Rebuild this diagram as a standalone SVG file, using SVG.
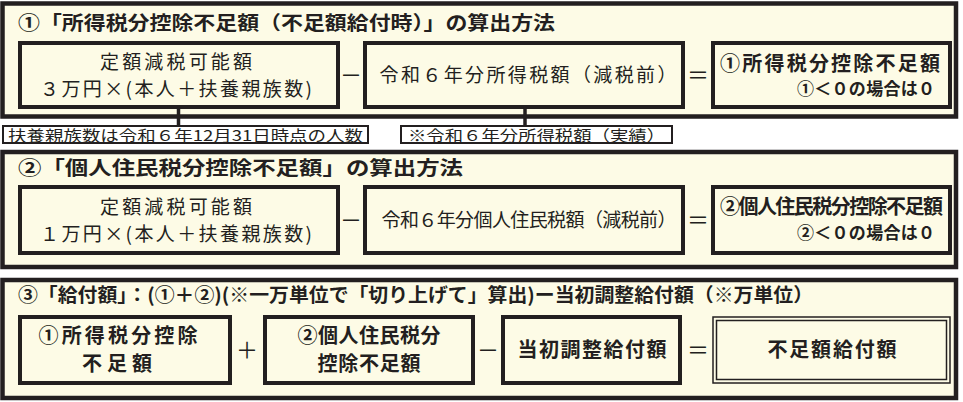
<svg xmlns="http://www.w3.org/2000/svg" width="963" height="402" viewBox="0 0 963 402">
<style>
.panel{fill:#fdfbe6;stroke:#231f20;stroke-width:4.5}
.box{fill:#fdfbe6;stroke:#231f20;stroke-width:4}
.note{fill:#ffffff;stroke:#231f20;stroke-width:2}
.thin{fill:none;stroke:#231f20;stroke-width:1.5}
.conn{stroke:#231f20;stroke-width:3.5;fill:none}
text{font-family:"Noto Sans CJK JP","Noto Sans",sans-serif;fill:#231f20}
.t{font-size:19px;font-weight:bold}
.b{font-size:19px;font-weight:normal}
.bb{font-size:20px;font-weight:bold}
.sm{font-size:17px;font-weight:bold}
.n{font-size:15px;font-weight:normal}
.op{font-size:22px;font-weight:normal}
.c{text-anchor:middle}
.e{text-anchor:end}
</style>
<rect width="963" height="402" fill="#ffffff"/>

<g id="panel1">
<rect class="panel" x="2.5" y="3.5" width="953.5" height="113"/>
<text class="t" x="18" y="30" textLength="537" lengthAdjust="spacingAndGlyphs">①「所得税分控除不足額（不足額給付時）」の算出方法</text>
</g>
<g id="p1-a">
<rect class="box" x="20" y="43" width="318" height="64"/>
<text class="b c" x="176" y="69" textLength="152" lengthAdjust="spacing">定額減税可能額</text>
<text class="b c" x="176" y="96" textLength="272" lengthAdjust="spacing">３万円×(本人＋扶養親族数)</text>
</g>
<text class="op c" x="351" y="83">－</text>
<g id="p1-b">
<rect class="box" x="365" y="43" width="318" height="64"/>
<text class="b c" x="528" y="82" textLength="297" lengthAdjust="spacing">令和６年分所得税額（減税前）</text>
</g>
<text class="op c" x="698" y="83">＝</text>
<g id="p1-c">
<rect class="box" x="713" y="43" width="237" height="64"/>
<text class="bb" x="720" y="71" textLength="220" lengthAdjust="spacing">①所得税分控除不足額</text>
<text class="sm e" x="935" y="95" textLength="138" lengthAdjust="spacing">①＜０の場合は０</text>
</g>

<g id="note1">
<rect class="note" x="3" y="126" width="365" height="17"/>
<text class="n" x="8" y="141" textLength="355" lengthAdjust="spacingAndGlyphs">扶養親族数は令和６年12月31日時点の人数</text>
</g>
<g id="note2">
<rect class="note" x="401" y="126" width="271" height="17"/>
<text class="n" x="408" y="141" textLength="257" lengthAdjust="spacingAndGlyphs">※令和６年分所得税額（実績）</text>
</g>

<g id="panel2">
<rect class="panel" x="2.5" y="152" width="953.5" height="115"/>
<text class="t" x="18" y="175" textLength="445" lengthAdjust="spacingAndGlyphs">②「個人住民税分控除不足額」の算出方法</text>
</g>
<g id="p2-a">
<rect class="box" x="20" y="187" width="318" height="66"/>
<text class="b c" x="176" y="214" textLength="152" lengthAdjust="spacing">定額減税可能額</text>
<text class="b c" x="176" y="241" textLength="272" lengthAdjust="spacing">１万円×(本人＋扶養親族数)</text>
</g>
<text class="op c" x="351" y="228">－</text>
<g id="p2-b">
<rect class="box" x="365" y="187" width="318" height="66"/>
<text class="b c" x="529" y="227" textLength="295" lengthAdjust="spacing">令和６年分個人住民税額（減税前）</text>
</g>
<text class="op c" x="698" y="228">＝</text>
<g id="p2-c">
<rect class="box" x="713" y="187" width="237" height="66"/>
<text class="bb" x="720" y="214" font-size="19" textLength="223" lengthAdjust="spacing">②個人住民税分控除不足額</text>
<text class="sm e" x="935" y="239" textLength="138" lengthAdjust="spacing">②＜０の場合は０</text>
</g>

<g id="panel3">
<rect class="panel" x="2.5" y="280" width="953.5" height="118"/>
<text class="t" x="18" y="302" textLength="795" lengthAdjust="spacingAndGlyphs">③「給付額」：(①＋②)(※一万単位で「切り上げて」算出)ー当初調整給付額（※万単位）</text>
</g>
<g id="p3-a">
<rect class="box" x="20" y="317" width="210" height="66"/>
<text class="bb c" x="118" y="343" font-size="21" textLength="159" lengthAdjust="spacing">①所得税分控除</text>
<text class="bb c" x="117" y="371" font-size="21" textLength="70" lengthAdjust="spacing">不足額</text>
</g>
<text class="op c" x="247" y="358">＋</text>
<g id="p3-b">
<rect class="box" x="265" y="317" width="208" height="66"/>
<text class="bb c" x="369" y="343" font-size="21" textLength="143" lengthAdjust="spacing">②個人住民税分</text>
<text class="bb c" x="369" y="371" font-size="21" textLength="103" lengthAdjust="spacing">控除不足額</text>
</g>
<text class="op c" x="488" y="358">－</text>
<g id="p3-c">
<rect class="box" x="503" y="317" width="177" height="66"/>
<text class="bb c" x="592" y="357" font-size="21" textLength="149" lengthAdjust="spacing">当初調整給付額</text>
</g>
<text class="op c" x="698" y="358">＝</text>
<g id="p3-d">
<rect x="713" y="317" width="237" height="66" fill="#fdfbe6" stroke="#231f20" stroke-width="1.5"/>
<rect class="thin" x="716.5" y="320.5" width="230" height="59"/>
<text class="bb c" x="832" y="357" font-size="21" textLength="129" lengthAdjust="spacing">不足額給付額</text>
</g>

<g id="connectors">
<line class="conn" x1="178.5" y1="107" x2="178.5" y2="126"/>
<line class="conn" x1="525" y1="107" x2="525" y2="126"/>
</g>
</svg>
